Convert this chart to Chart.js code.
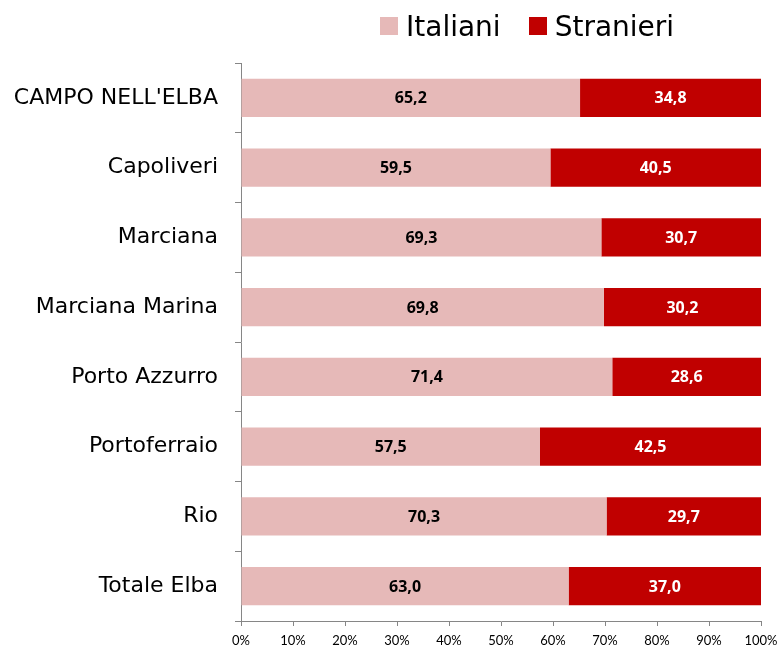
<!DOCTYPE html>
<html>
<head>
<meta charset="utf-8">
<script src="https://cdn.jsdelivr.net/npm/chart.js@4.4.1/dist/chart.umd.min.js"></script>
<style>
  html, body { margin: 0; padding: 0; background: #fff; }
  #wrap { position: relative; width: 780px; height: 650px; }
  #legend { position: absolute; top: 10px; left: 380px; font-family: "DejaVu Sans", sans-serif; font-size: 28px; color: #000; white-space: nowrap; }
  #legend span.box { display: inline-block; width: 18px; height: 18px; margin-right: 8px; vertical-align: 1px; }
  #legend span.item { margin-right: 28px; }
</style>
</head>
<body>
<div id="wrap">
  <canvas id="c" width="780" height="650"></canvas>
  <div id="legend"></div>
</div>
<script>
  // comuni dell'Elba
  var categories = ["CAMPO NELL'ELBA", "Capoliveri", "Marciana", "Marciana Marina", "Porto Azzurro", "Portoferraio", "Rio", "Totale Elba"];
  var italiani = [65.2, 59.5, 69.3, 69.8, 71.4, 57.5, 70.3, 63.0];
  var stranieri = [34.8, 40.5, 30.7, 30.2, 28.6, 42.5, 29.7, 37.0];
  var seriesNames = ["Italiani", "Stranieri"];
  var seriesColors = ["#E6B9B8", "#C00000"];
  var labelColors = ["#000000", "#FFFFFF"];
  var xTicks = [0, 10, 20, 30, 40, 50, 60, 70, 80, 90, 100];

  // legend in html
  var legendHtml = "";
  for (var i = 0; i < seriesNames.length; i++) {
    legendHtml += '<span class="item"><span class="box" style="background:' + seriesColors[i] + '"></span>' + seriesNames[i] + '</span>';
  }
  document.getElementById("legend").innerHTML = legendHtml;

  // write the values inside the bars
  var barLabels = {
    id: "barLabels",
    afterDatasetsDraw: function(chart) {
      var ctx = chart.ctx;
      ctx.save();
      ctx.font = "bold 16px 'Open Sans', sans-serif";
      ctx.textAlign = "center";
      ctx.textBaseline = "middle";
      chart.data.datasets.forEach(function(ds, di) {
        var meta = chart.getDatasetMeta(di);
        ctx.fillStyle = labelColors[di];
        meta.data.forEach(function(bar, j) {
          var cx = (bar.x + bar.base) / 2;
          ctx.fillText(ds.data[j].toFixed(1).replace(".", ","), cx, bar.y + 1);
        });
      });
      ctx.restore();
    }
  };

  var datasets = [italiani, stranieri].map(function(vals, i) {
    return {
      label: seriesNames[i],
      data: vals,
      backgroundColor: seriesColors[i],
      borderWidth: 0,
      barPercentage: 0.55,
      categoryPercentage: 1
    };
  });

  new Chart(document.getElementById("c"), {
    type: "bar",
    data: { labels: categories, datasets: datasets },
    plugins: [barLabels],
    options: {
      indexAxis: "y",
      responsive: false,
      animation: false,
      layout: { padding: { top: 63, right: 19, left: 0, bottom: 0 } },
      plugins: { legend: { display: false }, tooltip: { enabled: false } },
      scales: {
        x: {
          stacked: true,
          min: 0,
          max: 100,
          afterBuildTicks: function(scale) {
            scale.ticks = xTicks.map(function(v) { return { value: v }; });
          },
          afterFit: function(scale) {
            scale.height = 29;
            scale.paddingLeft = 0;
            scale.paddingRight = 0;
          },
          border: { color: "#868686", width: 1 },
          grid: { drawOnChartArea: false, tickLength: 5, color: "#868686" },
          ticks: {
            color: "#000",
            padding: 7,
            maxRotation: 0,
            font: { family: "Lato, sans-serif", size: 13 },
            callback: function(v) { return v + "%"; }
          }
        },
        y: {
          stacked: true,
          afterFit: function(scale) {
            scale.width = 241;
            scale.paddingTop = 0;
            scale.paddingBottom = 0;
          },
          border: { color: "#868686", width: 1 },
          grid: { offset: true, drawOnChartArea: false, tickLength: 6, color: "#868686" },
          ticks: {
            color: "#000",
            padding: 17,
            font: { family: "'DejaVu Sans', sans-serif", size: 22 }
          }
        }
      }
    }
  });
</script>
</body>
</html>
